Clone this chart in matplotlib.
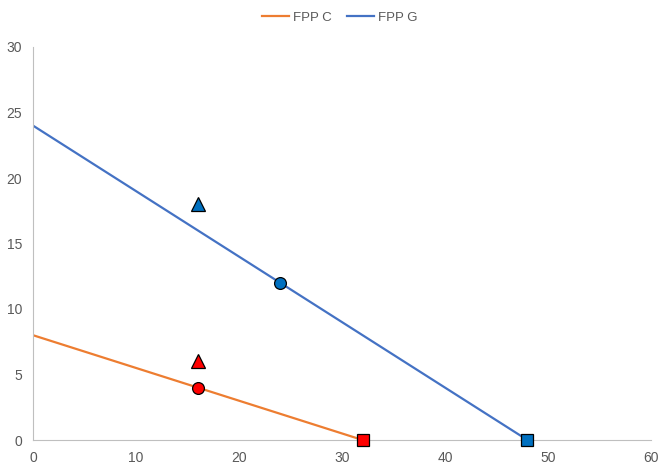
import matplotlib
matplotlib.use("Agg")
import matplotlib.pyplot as plt

plt.rcParams['font.family'] = ['Liberation Sans', 'DejaVu Sans']

# Data
fpp_c_x = [0, 32]
fpp_c_y = [8, 0]
fpp_g_x = [0, 48]
fpp_g_y = [24, 0]

red_circle = (16, 4)
red_triangle = (16, 6)
red_square = (32, 0)
blue_circle = (24, 12)
blue_triangle = (16, 18)
blue_square = (48, 0)

x_ticks = [0, 10, 20, 30, 40, 50, 60]
y_ticks = [0, 5, 10, 15, 20, 25, 30]

orange = '#ED7D31'
blue_line = '#4472C4'
red = '#FF0000'
blue_mk = '#0070C0'
txt = '#595959'

fig = plt.figure(figsize=(6.66, 4.71), dpi=100)
ax = fig.add_axes([33/666, 1-440/471, (651-33)/666, (440-47)/471])

ax.plot(fpp_c_x, fpp_c_y, color=orange, lw=1.6, label='FPP C', zorder=2)
ax.plot(fpp_g_x, fpp_g_y, color=blue_line, lw=1.6, label='FPP G', zorder=2)

for (x, y), m, c, s in [(red_circle, 'o', red, 8.5), (red_triangle, '^', red, 9.5), (red_square, 's', red, 8.5),
                        (blue_circle, 'o', blue_mk, 8.5), (blue_triangle, '^', blue_mk, 9.5), (blue_square, 's', blue_mk, 8.5)]:
    ax.plot([x], [y], marker=m, color=c, markeredgecolor='black', markeredgewidth=0.9,
            markersize=s, linestyle='none', zorder=3, clip_on=False)

ax.set_xlim(0, 60)
ax.set_ylim(0, 30)
ax.set_xticks(x_ticks)
ax.set_yticks(y_ticks)
ax.tick_params(length=0, colors=txt, labelsize=10, pad=8)
for s in ['top', 'right']:
    ax.spines[s].set_visible(False)
ax.spines['left'].set_color('#BFBFBF')
ax.spines['bottom'].set_color('#BFBFBF')
ax.spines['left'].set_linewidth(0.8)
ax.spines['bottom'].set_linewidth(0.8)

leg = fig.legend(loc='center', bbox_to_anchor=(0.51, 1-18/471), ncol=2, frameon=False,
                 fontsize=9.5, handlelength=2.0, columnspacing=1.2, handletextpad=0.3)
for t in leg.get_texts():
    t.set_color(txt)

fig.savefig('out.png', dpi=100)
